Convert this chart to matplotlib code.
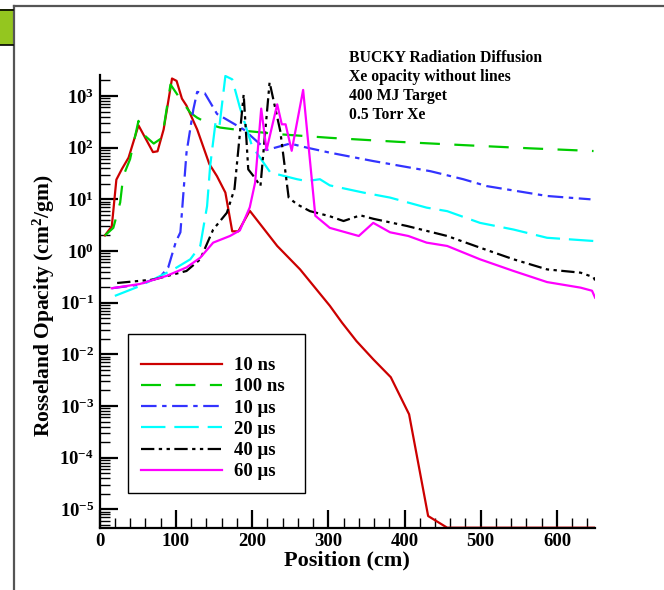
import numpy as np
import matplotlib
matplotlib.use("Agg")
import matplotlib.pyplot as plt
from matplotlib.ticker import MultipleLocator, LogLocator, NullFormatter
from matplotlib.patches import Rectangle
from matplotlib.lines import Line2D

plt.rcParams['font.family'] = ['Liberation Serif', 'DejaVu Serif']
plt.rcParams['font.weight'] = 'bold'
plt.rcParams['mathtext.fontset'] = 'custom'
plt.rcParams['mathtext.rm'] = 'Liberation Serif:bold'
plt.rcParams['mathtext.it'] = 'Liberation Serif:bold'
plt.rcParams['mathtext.bf'] = 'Liberation Serif:bold'

# --- data (position in cm, opacity in cm^2/gm) ---
x_10ns = [7, 16, 22, 29, 38, 51, 70, 76, 84, 95, 101, 108, 114, 128, 144, 154,
          165, 174, 182, 197, 233, 263, 302, 318, 337, 359, 382, 406, 431, 456, 650]
y_10ns = [2.0, 3.0, 24, 38, 64, 270, 82, 85, 225, 2180, 1960, 890, 650, 225, 48, 28,
          13.5, 2.4, 2.4, 6.0, 1.25, 0.44, 0.087, 0.041, 0.018, 0.008, 0.0036, 6.9e-4,
          7.4e-6, 4.4e-6, 4.4e-6]

x_100ns = [7, 18, 27, 31, 40, 51, 60, 71, 82, 93, 106, 119, 128, 145, 158, 193,
           240, 302, 390, 477, 565, 648]
y_100ns = [2.0, 2.8, 8.7, 28, 60, 330, 167, 120, 155, 1670, 870, 475, 380, 280, 245, 210,
           180, 155, 130, 112, 97, 86]

x_10us = [16, 50, 79, 90, 100, 106, 114, 123, 128, 138, 154, 189, 219, 250, 272,
          302, 359, 434, 477, 508, 587, 644]
y_10us = [0.19, 0.22, 0.31, 0.48, 1.5, 2.3, 80, 550, 1200, 1130, 450, 225, 90, 120, 100,
          80, 55, 35, 24.5, 18, 11.6, 10]

x_20us = [20, 53, 97, 119, 132, 141, 145, 152, 157, 165, 174, 184, 200, 224, 259,
          272, 289, 302, 346, 381, 429, 456, 499, 543, 587, 648]
y_20us = [0.135, 0.21, 0.44, 0.69, 1.25, 7.4, 44, 300, 245, 2440, 2100, 600, 107, 33, 24.5,
          22.5, 24.5, 18.6, 13.5, 10.8, 6.9, 5.9, 3.5, 2.6, 1.8, 1.56]

x_40us = [23, 71, 114, 132, 149, 167, 177, 189, 195, 202, 211, 223, 237, 248, 259,
          276, 302, 320, 342, 359, 403, 456, 499, 543, 587, 631, 648, 650]
y_40us = [0.24, 0.28, 0.41, 0.69, 2.6, 5.5, 16, 1070, 38, 28, 18, 1840, 210, 10.8, 8,
          5.9, 4.7, 3.8, 4.9, 4.2, 3.05, 1.95, 1.16, 0.69, 0.44, 0.38, 0.31, 0.27]

x_60us = [16, 53, 88, 114, 132, 149, 171, 184, 197, 204, 212, 219, 233, 239, 244,
          252, 267, 283, 302, 340, 359, 381, 405, 429, 456, 499, 543, 587, 631, 646, 650]
y_60us = [0.19, 0.23, 0.33, 0.48, 0.74, 1.45, 1.95, 2.5, 7, 21, 570, 90, 690, 283, 283,
          87, 1310, 4.8, 2.8, 1.95, 3.5, 2.3, 1.95, 1.45, 1.25, 0.69, 0.41, 0.25, 0.195, 0.17, 0.125]

labels = ['10 ns', '100 ns', '10 \u03bcs', '20 \u03bcs', '40 \u03bcs', '60 \u03bcs']
notes = ['BUCKY Radiation Diffusion', 'Xe opacity without lines',
         '400 MJ Target', '0.5 Torr Xe']

W, H = 664, 590
fig = plt.figure(figsize=(W / 100, H / 100), dpi=100)

# slide-like frame around the picture
fig.add_artist(Line2D([13.5 / W, 1], [1 - 5.5 / H] * 2, transform=fig.transFigure,
                      color='#555555', lw=1.6))
fig.add_artist(Line2D([13.5 / W] * 2, [0, 1 - 5.5 / H], transform=fig.transFigure,
                      color='#555555', lw=1.6))
fig.add_artist(Rectangle((0, 1 - 45 / H), 13 / W, 36 / H, transform=fig.transFigure,
                         facecolor='#94c61f', edgecolor='none'))
for yy in (9.5, 44.5):
    fig.add_artist(Line2D([0, 13 / W], [1 - yy / H] * 2, transform=fig.transFigure,
                          color='black', lw=1.2))

ax = fig.add_axes([0.150, 0.1056, 0.7462, 0.7673])

ax.plot(x_10ns, y_10ns, color='#cc0000', lw=1.6, label=labels[0])
ax.plot(x_100ns, y_100ns, color='#00cc00', lw=1.6, ls=(0, (9, 6.5)), label=labels[1])
ax.plot(x_10us, y_10us, color='#3333ff', lw=1.6, ls=(0, (7, 2.5, 2, 2.5)), label=labels[2])
ax.plot(x_20us, y_20us, color='#00ffff', lw=1.6, ls=(0, (11, 4)), label=labels[3])
ax.plot(x_40us, y_40us, color='black', lw=1.6, ls=(0, (6, 2, 1.5, 2, 1.5, 2)), label=labels[4])
ax.plot(x_60us, y_60us, color='#ff00ff', lw=1.6, label=labels[5])

ax.set_yscale('log')
ax.set_xlim(0, 650)
ax.set_ylim(4.4e-6, 2550)
ax.xaxis.set_major_locator(MultipleLocator(100))
ax.xaxis.set_minor_locator(MultipleLocator(20))
ax.yaxis.set_major_locator(LogLocator(base=10, numticks=20))
ax.yaxis.set_minor_locator(LogLocator(base=10, subs=np.arange(2, 10), numticks=20))
ax.yaxis.set_minor_formatter(NullFormatter())

for side in ('top', 'right'):
    ax.spines[side].set_visible(False)
for side in ('left', 'bottom'):
    ax.spines[side].set_linewidth(1.6)
ax.tick_params(which='major', direction='in', length=13, width=1.6, labelsize=13.5, pad=4)
ax.tick_params(which='minor', direction='in', length=7, width=1.0)

ax.set_xlabel('Position (cm)', fontsize=16, fontweight='bold')
ax.set_ylabel('Rosseland Opacity (cm$^2$/gm)', fontsize=15.5, fontweight='bold')
ax.xaxis.set_label_coords(0.5, -0.05)
ax.yaxis.set_label_coords(-0.085, 0.49)

# legend box (drawn separately so its padding matches the picture)
ax.add_patch(Rectangle((127.7 / W, 1 - 493.3 / H), 177.6 / W, 159 / H,
                       transform=fig.transFigure, facecolor='white', edgecolor='black',
                       lw=1.0, zorder=4))
leg = ax.legend(loc='upper left', bbox_to_anchor=(141 / W, 1 - 357 / H),
                bbox_transform=fig.transFigure, frameon=False, borderpad=0,
                borderaxespad=0, handlelength=4.3, handletextpad=0.64, labelspacing=0.22,
                prop=dict(family='Liberation Serif', weight='bold', size=13.5))
leg.set_zorder(5)

for i, t in enumerate(notes):
    fig.text(349 / W, 1 - (58.5 + 18.8 * i) / H, t, ha='left', va='center',
             fontsize=11.3, fontweight='bold')

fig.savefig('out.png', dpi=100)
